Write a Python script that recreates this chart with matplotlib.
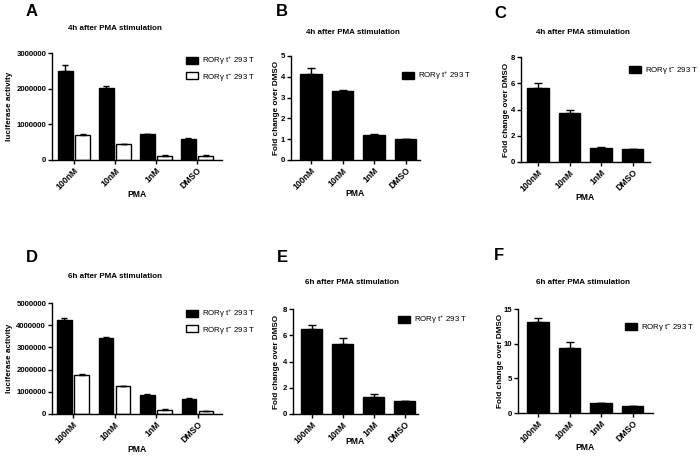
import matplotlib
matplotlib.use('Agg')
import matplotlib.pyplot as plt
from matplotlib.patches import Patch

# ---------------- data ----------------
categories = ['100nM', '10nM', '1nM', 'DMSO']

a_pos = [2500000, 2020000, 720000, 600000]
a_pos_err = [160000, 50000, 10000, 10000]
a_neg = [690000, 450000, 120000, 120000]
a_neg_err = [25000, 12000, 10000, 8000]

b_fold = [4.12, 3.33, 1.22, 1.0]
b_err = [0.29, 0.04, 0.02, 0.0]

c_fold = [5.64, 3.72, 1.03, 1.0]
c_err = [0.36, 0.26, 0.1, 0.0]

d_pos = [4220000, 3440000, 860000, 680000]
d_pos_err = [100000, 40000, 40000, 40000]
d_neg = [1740000, 1240000, 190000, 120000]
d_neg_err = [50000, 25000, 30000, 30000]

e_fold = [6.45, 5.3, 1.33, 1.0]
e_err = [0.35, 0.5, 0.17, 0.0]

f_fold = [13.1, 9.4, 1.43, 1.0]
f_err = [0.6, 0.9, 0.05, 0.0]

legend_pos = 'RORγ t$^{+}$ 293 T'
legend_neg = 'RORγ t$^{-}$ 293 T'
title_4h = '4h after PMA stimulation'
title_6h = '6h after PMA stimulation'
ylab_luc = 'luciferase activity'
ylab_fold = 'Fold change over DMSO'
xlab = 'PMA'

# ---------------- style ----------------
W, H = 700, 458
FAM = ['Liberation Sans', 'DejaVu Sans']
plt.rcParams['font.family'] = FAM
plt.rcParams['mathtext.fontset'] = 'custom'
plt.rcParams['mathtext.rm'] = 'Liberation Sans'
plt.rcParams['mathtext.it'] = 'Liberation Sans'
plt.rcParams['mathtext.bf'] = 'Liberation Sans:bold'
plt.rcParams['axes.linewidth'] = 1.0

fig = plt.figure(figsize=(W / 100, H / 100), dpi=100)


def make_axes(l, r, t, b):
    return fig.add_axes([l / W, 1 - b / H, (r - l) / W, (b - t) / H])


def style(ax, yticks, period_px, first_center_px, ylabel, ylabel_x, xlabel_y, l, r, t, b):
    width_px = r - l
    x0 = -first_center_px / period_px
    ax.set_xlim(x0, x0 + width_px / period_px)
    ax.set_ylim(0, yticks[-1])
    ax.set_yticks(yticks)
    ax.set_yticklabels([str(v) for v in yticks], fontsize=5.6, fontweight='bold')
    ax.set_xticks(range(len(categories)))
    ax.set_xticklabels(categories, rotation=45, ha='right', rotation_mode='anchor',
                       fontsize=6.2, fontweight='bold')
    for s in ['top', 'right']:
        ax.spines[s].set_visible(False)
    ax.tick_params(direction='out', length=3, width=1, pad=1.2)
    ax.set_ylabel(ylabel, fontsize=5.9, fontweight='bold')
    ax.yaxis.set_label_coords((ylabel_x - l) / width_px, 0.5)
    ax.yaxis.label.set_va('center')
    ax.set_xlabel(xlab, fontsize=6.2, fontweight='bold')
    ax.xaxis.set_label_coords(0.5, -(xlabel_y - b) / (b - t))
    ax.xaxis.label.set_va('center')


def header(letter, lx, ly, title, tx, ty):
    fig.text(lx / W, 1 - ly / H, letter, fontsize=12, fontweight='bold', ha='left', va='center')
    fig.text(tx / W, 1 - ty / H, title, fontsize=5.8, fontweight='bold', ha='center', va='center')


def legend(ax, handles, labels, x, y):
    ax.legend(handles, labels, loc='upper left', bbox_to_anchor=(x / W, 1 - y / H),
              bbox_transform=fig.transFigure, frameon=False, fontsize=5.7,
              handlelength=1.5, handleheight=1.0, handletextpad=0.5,
              labelspacing=0.55, borderpad=0, borderaxespad=0)


GW = 0.35   # grouped bar width (units of group period)
GO = 0.21   # offset of each bar from group centre
SW = 0.67   # single bar width
ekw = dict(elinewidth=1, capthick=1, ecolor='black')
xs = list(range(len(categories)))


def grouped(ax, pos, pos_err, neg, neg_err):
    ax.bar([x - GO for x in xs], pos, GW, color='black', edgecolor='black', linewidth=1,
           yerr=[[0] * len(pos), pos_err], capsize=2.5, error_kw=ekw)
    ax.bar([x + GO for x in xs], neg, GW, color='white', edgecolor='black', linewidth=1,
           yerr=[[0] * len(neg), neg_err], capsize=2.5, error_kw=ekw)


def single(ax, vals, errs):
    ax.bar(xs, vals, SW, color='black', edgecolor='black', linewidth=1,
           yerr=[[0] * len(vals), errs], capsize=3, error_kw=ekw)


h_pos = Patch(facecolor='black', edgecolor='black', linewidth=1)
h_neg = Patch(facecolor='white', edgecolor='black', linewidth=1)

# ---- A ----
L = (52, 222, 53, 160)
axA = make_axes(*L)
grouped(axA, a_pos, a_pos_err, a_neg, a_neg_err)
style(axA, [0, 1000000, 2000000, 3000000], 41, 22, ylab_luc, 10, 195, *L)
legend(axA, [h_pos, h_neg], [legend_pos, legend_neg], 186, 55)
header('A', 26, 12, title_4h, 115, 28)

# ---- B ----
L = (291, 420, 56, 160)
axB = make_axes(*L)
single(axB, b_fold, b_err)
style(axB, [0, 1, 2, 3, 4, 5], 31.5, 20, ylab_fold, 277, 194, *L)
legend(axB, [h_pos], [legend_pos], 402, 70)
header('B', 276, 12, title_4h, 353, 32)

# ---- C ----
L = (521, 650, 57, 162)
axC = make_axes(*L)
single(axC, c_fold, c_err)
style(axC, [0, 2, 4, 6, 8], 31.5, 17, ylab_fold, 506, 197, *L)
legend(axC, [h_pos], [legend_neg], 629, 65)
header('C', 494, 13, title_4h, 583, 32)

# ---- D ----
L = (52, 222, 303, 414)
axD = make_axes(*L)
grouped(axD, d_pos, d_pos_err, d_neg, d_neg_err)
style(axD, [0, 1000000, 2000000, 3000000, 4000000, 5000000], 41.5, 21, ylab_luc, 10, 449, *L)
legend(axD, [h_pos, h_neg], [legend_pos, legend_neg], 186, 308)
header('D', 26, 257, title_6h, 115, 277)

# ---- E ----
L = (293, 418, 309, 414)
axE = make_axes(*L)
single(axE, e_fold, e_err)
style(axE, [0, 2, 4, 6, 8], 31, 18.5, ylab_fold, 277, 441, *L)
legend(axE, [h_pos], [legend_pos], 398, 314)
header('E', 277, 257, title_6h, 352, 283)

# ---- F ----
L = (518, 653, 309, 413)
axF = make_axes(*L)
single(axF, f_fold, f_err)
style(axF, [0, 5, 10, 15], 31.5, 20, ylab_fold, 501, 447, *L)
legend(axF, [h_pos], [legend_neg], 625, 322)
header('F', 494, 255, title_6h, 583, 283)

fig.savefig('out.png', dpi=100)
